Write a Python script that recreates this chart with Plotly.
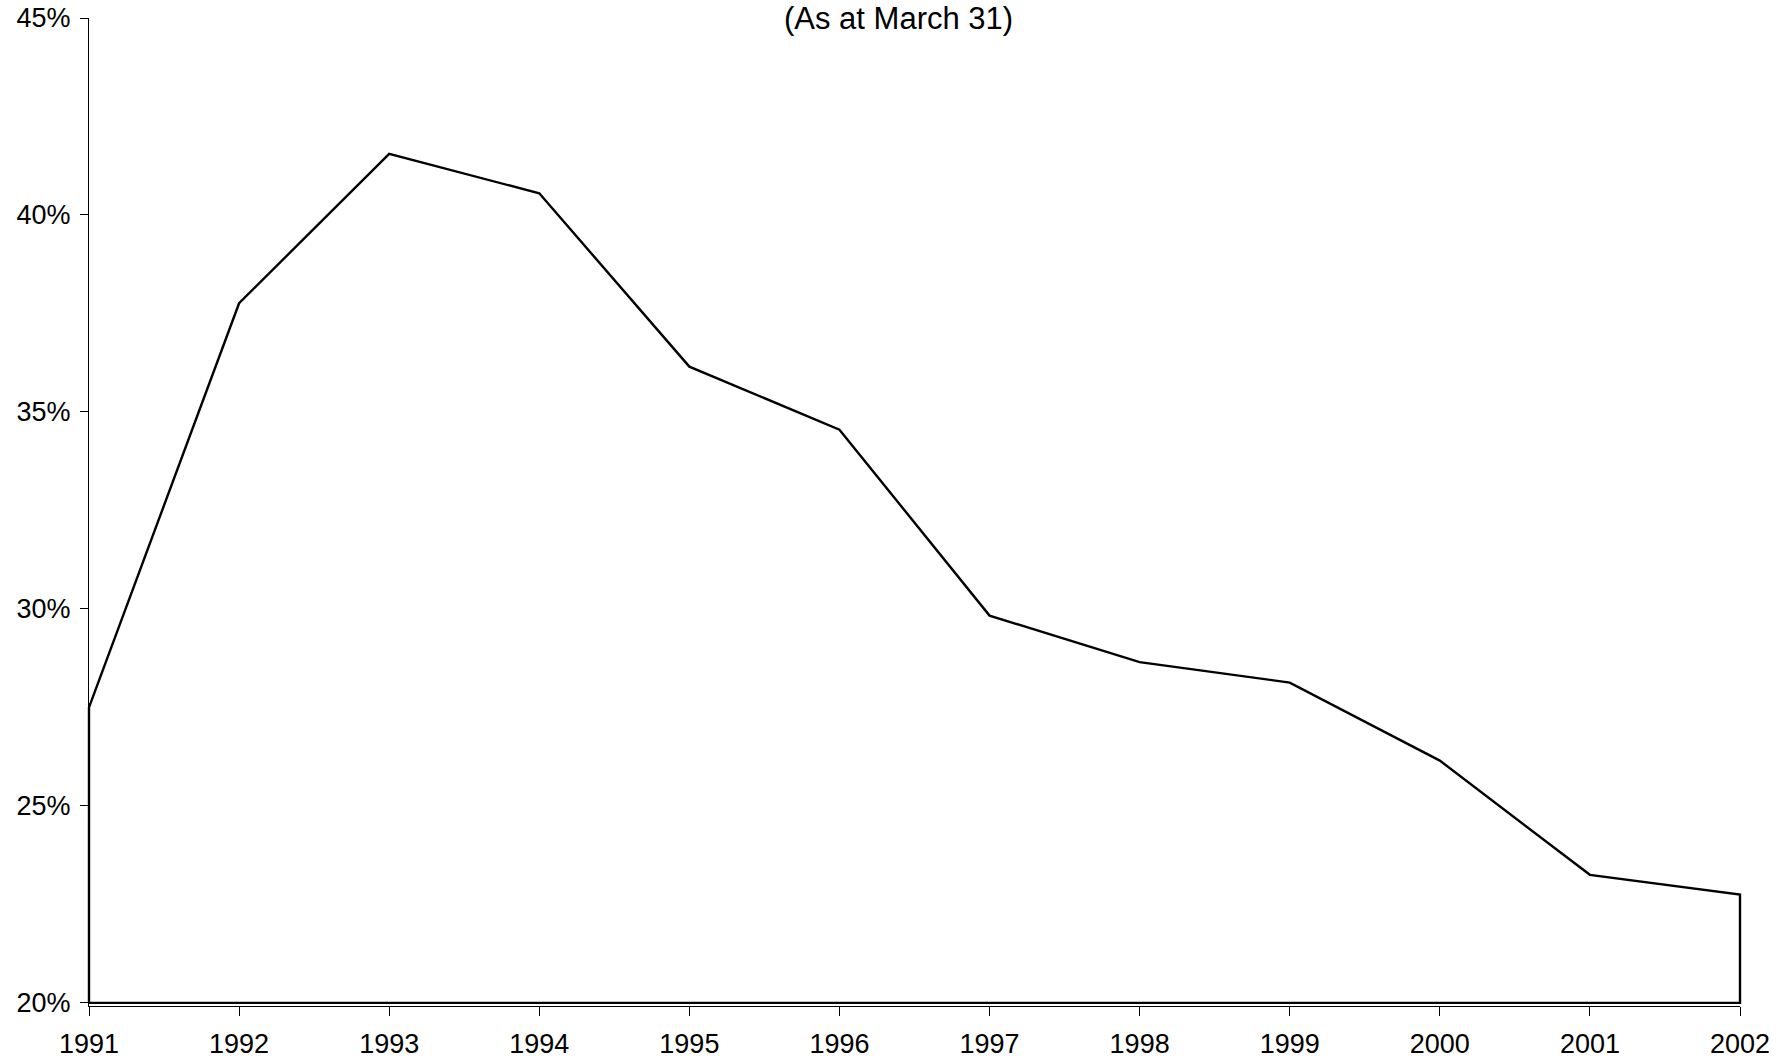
import plotly.graph_objects as go

years = [1991, 1992, 1993, 1994, 1995, 1996, 1997, 1998, 1999, 2000, 2001, 2002]
values = [27.5, 37.76, 41.55, 40.55, 36.15, 34.55, 29.83, 28.65, 28.13, 26.15, 23.25, 22.75]
baseline = 20
y_ticks = [20, 25, 30, 35, 40, 45]
title_text = "(As at March 31)"

FONT = "Liberation Sans, Arial, sans-serif"

# closed outline: baseline -> series -> baseline -> back to start
xs = [years[0]] + years + [years[-1], years[0]]
ys = [baseline] + values + [baseline, baseline]

fig = go.Figure()
fig.add_trace(go.Scatter(
    x=xs, y=ys, mode="lines", fill="toself", fillcolor="white",
    line=dict(color="black", width=2.4), hoverinfo="skip", showlegend=False,
))

fig.update_layout(
    width=1791, height=1063,
    paper_bgcolor="white", plot_bgcolor="white",
    margin=dict(l=89, r=51, t=18, b=57),
    font=dict(family=FONT, size=27, color="black"),
    showlegend=False,
    annotations=[dict(
        text=title_text, xref="paper", yref="paper", x=0.4906, y=1.0,
        xanchor="center", yanchor="middle", showarrow=False,
        font=dict(family=FONT, size=31, color="black"),
    )],
)
fig.update_xaxes(
    range=[years[0], years[-1]], tickvals=years, ticktext=[str(y) for y in years],
    showgrid=False, zeroline=False, showline=True, linecolor="black", linewidth=1,
    ticks="outside", ticklen=9, tickcolor="black", tickwidth=1,
    tickfont=dict(family=FONT, size=27, color="black"),
    automargin=False, ticklabelstandoff=5,
)
fig.update_yaxes(
    range=[19.92, 45], tickvals=y_ticks, ticktext=[f"{v}%" for v in y_ticks],
    showgrid=False, zeroline=False, showline=True, linecolor="black", linewidth=1,
    ticks="outside", ticklen=8, tickcolor="black", tickwidth=1,
    tickfont=dict(family=FONT, size=27, color="black"),
    automargin=False, ticklabelstandoff=4,
)

fig.write_html(
    "out.html",
    config={"displayModeBar": False, "staticPlot": True},
    post_script=(
        "document.body.style.margin='0';document.body.style.overflow='hidden';"
        "document.querySelectorAll('[clip-path]').forEach(function(g){g.removeAttribute('clip-path');});"
    ),
)
